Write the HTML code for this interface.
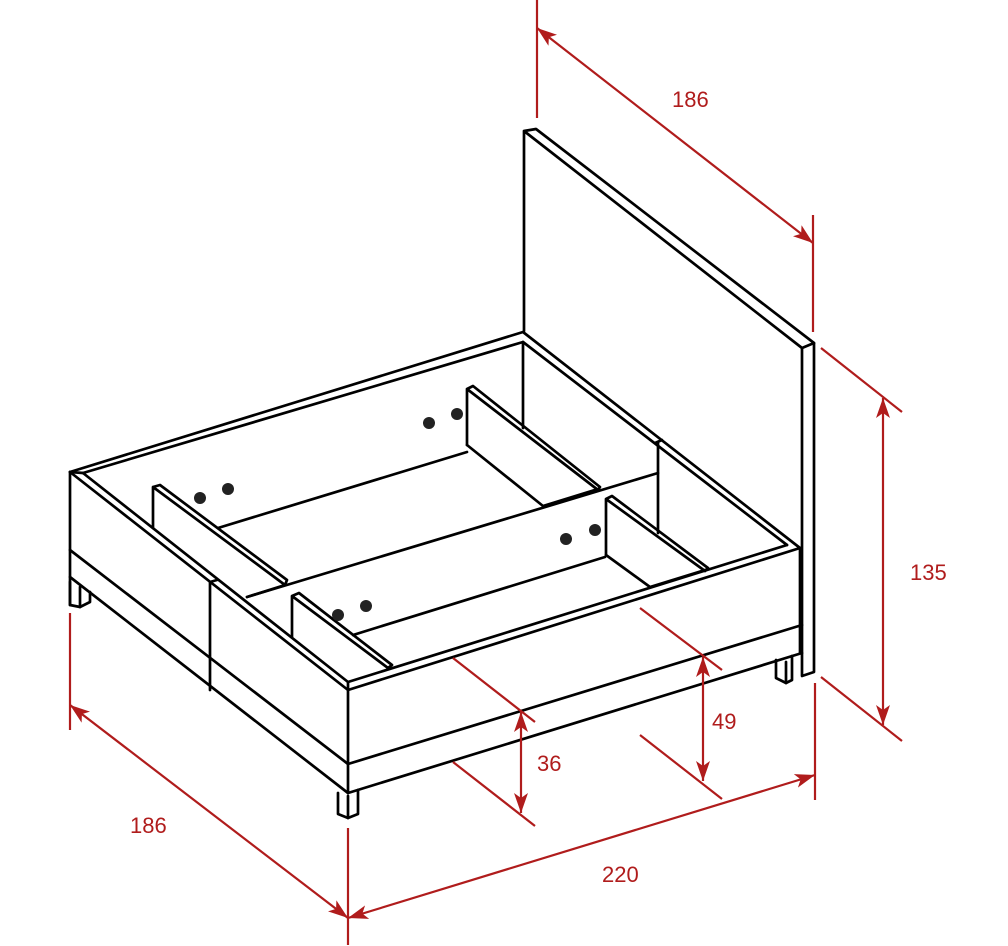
<!DOCTYPE html>
<html><head><meta charset="utf-8"><style>
html,body{margin:0;padding:0;background:#fff;}
svg{display:block;}
text{font-family:"Liberation Sans",sans-serif;font-size:22px;fill:#b01c1c;}
</style></head><body>
<svg width="1008" height="946" viewBox="0 0 1008 946" xmlns="http://www.w3.org/2000/svg">
<defs>
<marker id="ah" viewBox="0 0 20 14" refX="20" refY="7" markerWidth="20" markerHeight="14" markerUnits="userSpaceOnUse" orient="auto-start-reverse">
<path d="M0,0 L20,7 L0,14 L5,7 Z" fill="#b01c1c"/>
</marker>
</defs>
<g fill="none" stroke="#000" stroke-width="2.7" stroke-linejoin="round" stroke-linecap="round">
<polyline points="524,331 524,131 536,129 814,343 814,672 802,676 802,348 524,131"/>
<line x1="802" y1="348" x2="814" y2="343"/>
<polyline points="70,472 523,332 800,548"/>
<polyline points="83,473 523,342 787,545"/>
<line x1="70" y1="472" x2="83" y2="473"/>
<line x1="70" y1="472" x2="348" y2="690"/>
<line x1="83" y1="473" x2="348" y2="682"/>
<line x1="70" y1="472" x2="70" y2="605"/>
<line x1="70" y1="550" x2="348" y2="764"/>
<line x1="70" y1="577" x2="348" y2="793"/>
<polyline points="70,582 70,605 80,607 90,602 90,592"/>
<line x1="80" y1="587" x2="80" y2="607"/>
<polyline points="210,690 210,582 217,580"/>
<line x1="348" y1="682" x2="348" y2="793"/>
<polyline points="338,793 338,814 348,818 358,814 358,790"/>
<line x1="348" y1="796" x2="348" y2="818"/>
<line x1="348" y1="690" x2="800" y2="548"/>
<line x1="348" y1="682" x2="787" y2="545"/>
<line x1="348" y1="764" x2="802" y2="625"/>
<line x1="348" y1="793" x2="802" y2="653"/>
<line x1="800" y1="548" x2="800" y2="653"/>
<polyline points="776,660 776,678 786,683 792,680 792,656"/>
<line x1="786" y1="662" x2="786" y2="683"/>
<line x1="523" y1="342" x2="523" y2="428"/>
<line x1="658" y1="442" x2="658" y2="533"/>
<line x1="655" y1="443" x2="662" y2="440"/>
<line x1="218" y1="528" x2="467" y2="452"/>
<line x1="247" y1="597" x2="658" y2="473"/>
<line x1="247" y1="597" x2="285" y2="585"/>
<line x1="353" y1="635" x2="605" y2="557"/>
<line x1="650" y1="587" x2="705" y2="570"/>
<line x1="543" y1="506" x2="598" y2="489"/>
<polyline points="153,528 153,487 160,485 287,580 285,585 153,487"/>
<polyline points="292,637 292,596 299,593 392,665 388,668 292,596"/>
<polyline points="467,445 467,389 473,386 600,487 598,490 467,389"/>
<line x1="467" y1="445" x2="543" y2="506"/>
<polyline points="606,555 606,499 612,496 708,568 705,571 606,499"/>
<line x1="606" y1="555" x2="650" y2="587"/>
</g>
<g fill="#222">
<circle cx="200" cy="498" r="6"/><circle cx="228" cy="489" r="6"/>
<circle cx="429" cy="423" r="6"/><circle cx="457" cy="414" r="6"/>
<circle cx="338" cy="615" r="6"/><circle cx="366" cy="606" r="6"/>
<circle cx="566" cy="539" r="6"/><circle cx="595" cy="530" r="6"/>
</g>
<g stroke="#b01c1c" stroke-width="2.2" fill="none">
<line x1="537" y1="0" x2="537" y2="118"/>
<line x1="813" y1="215" x2="813" y2="332"/>
<line x1="537" y1="28" x2="813" y2="243" marker-start="url(#ah)" marker-end="url(#ah)"/>
<line x1="821" y1="348" x2="902" y2="412"/>
<line x1="821" y1="677" x2="902" y2="741"/>
<line x1="883" y1="398" x2="883" y2="725" marker-start="url(#ah)" marker-end="url(#ah)"/>
<line x1="640" y1="608" x2="722" y2="670"/>
<line x1="640" y1="735" x2="722" y2="799"/>
<line x1="703" y1="657" x2="703" y2="781" marker-start="url(#ah)" marker-end="url(#ah)"/>
<line x1="453" y1="658" x2="535" y2="722"/>
<line x1="453" y1="762" x2="535" y2="826"/>
<line x1="521" y1="712" x2="521" y2="813" marker-start="url(#ah)" marker-end="url(#ah)"/>
<line x1="815" y1="683" x2="815" y2="800"/>
<line x1="348" y1="828" x2="348" y2="945"/>
<line x1="348" y1="918" x2="815" y2="775" marker-start="url(#ah)" marker-end="url(#ah)"/>
<line x1="70" y1="613" x2="70" y2="730"/>
<line x1="70" y1="705" x2="348" y2="918" marker-start="url(#ah)" marker-end="url(#ah)"/>
</g>
<text x="672" y="107">186</text>
<text x="910" y="580">135</text>
<text x="712" y="729">49</text>
<text x="537" y="771">36</text>
<text x="602" y="882">220</text>
<text x="130" y="833">186</text>
</svg>
</body></html>
